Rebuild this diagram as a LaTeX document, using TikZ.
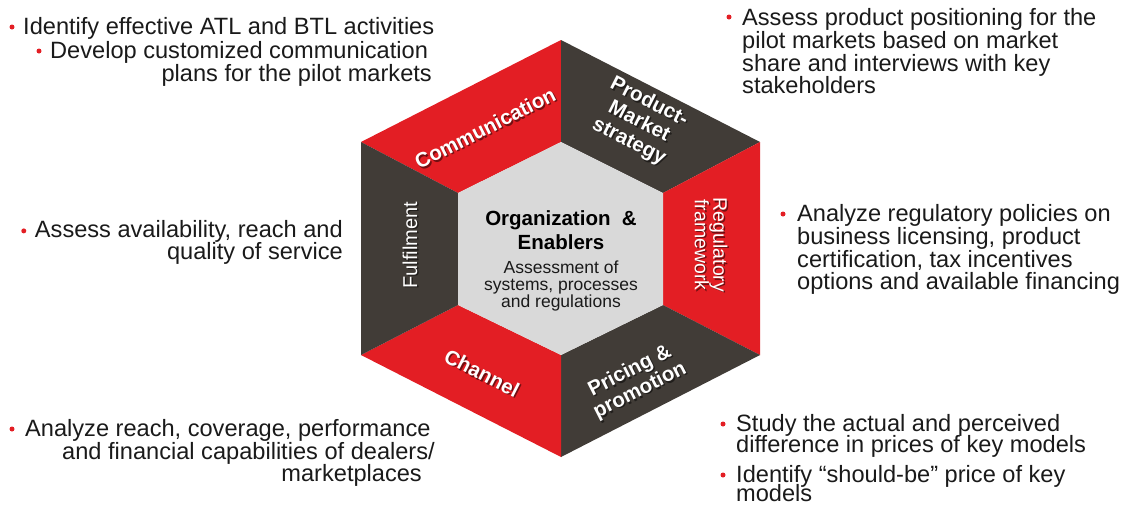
\documentclass[tikz,border=0pt]{standalone}
\usepackage{fontspec}
\setmainfont{Liberation Sans}
\definecolor{hxred}{HTML}{E31E24}
\definecolor{hxdark}{HTML}{413C37}
\definecolor{hxgray}{HTML}{D9D9D9}
\definecolor{txtc}{HTML}{1A1A1A}
\tikzset{
  body/.style={font=\fontsize{23.6}{23}\selectfont, text=txtc, inner sep=0pt},
  bul/.style={circle, fill=hxred, minimum size=5pt, inner sep=0pt},
  lbl/.style={text=white, font=\fontsize{20.5}{22}\selectfont\bfseries, align=center, inner sep=0pt},
  lblr/.style={text=white, font=\fontsize{19.5}{18.5}\selectfont, align=center, inner sep=0pt},
  shd/.style={text=black, text opacity=0.5}
}
\begin{document}
\begin{tikzpicture}[x=1pt,y=-1pt]
\useasboundingbox (0,0) rectangle (1133,504);
% hexagon vertices
\coordinate (O1) at (561,40);
\coordinate (O2) at (760,142);
\coordinate (O3) at (760,355);
\coordinate (O4) at (561,457);
\coordinate (O5) at (361,355);
\coordinate (O6) at (361,142);
\coordinate (I1) at (561,142);
\coordinate (I2) at (663,193);
\coordinate (I3) at (663,305);
\coordinate (I4) at (561,355);
\coordinate (I5) at (458,305);
\coordinate (I6) at (458,193);
\fill[hxred]  (O6)--(O1)--(I1)--(I6)--cycle;
\fill[hxdark] (O1)--(O2)--(I2)--(I1)--cycle;
\fill[hxred]  (O2)--(O3)--(I3)--(I2)--cycle;
\fill[hxdark] (O3)--(O4)--(I4)--(I3)--cycle;
\fill[hxred]  (O4)--(O5)--(I5)--(I4)--cycle;
\fill[hxdark] (O5)--(O6)--(I6)--(I5)--cycle;
\fill[hxgray] (I1)--(I2)--(I3)--(I4)--(I5)--(I6)--cycle;
% segment labels with shadows
\node[lbl,shd,rotate=27] (commS) at (486.5,129.5) {Communication};
\node[lbl,rotate=27] (comm) at (485,128) {Communication};
\node[lbl,shd,rotate=-27] (prodS) at (640.5,123.5) {Product-\\Market\\strategy};
\node[lbl,rotate=-27] (prod) at (639,122) {Product-\\Market\\strategy};
\node[lblr,shd,rotate=-90] (regS) at (712.5,246.5) {Regulatory\\framework};
\node[lblr,rotate=-90] (reg) at (711,245) {Regulatory\\framework};
\node[lbl,shd,rotate=27] (priS) at (636.5,382.5) {Pricing \&\\promotion};
\node[lbl,rotate=27] (pri) at (635,381) {Pricing \&\\promotion};
\node[lbl,shd,rotate=-27] (chanS) at (483.5,374.5) {Channel};
\node[lbl,rotate=-27] (chan) at (482,373) {Channel};
\node[lblr,shd,rotate=90,font=\fontsize{20}{20}\selectfont] (fulS) at (411.5,246.5) {Fulfilment};
\node[lblr,rotate=90,font=\fontsize{20}{20}\selectfont] (ful) at (410,245) {Fulfilment};
% centre
\node[align=center, inner sep=0pt, font=\fontsize{20.5}{24}\selectfont\bfseries, text=black] (org) at (561,230) {Organization\ \ \&\\Enablers};
\node[align=center, inner sep=0pt, font=\fontsize{17.5}{17}\selectfont, text=txtc] (orgsub) at (561,286) {Assessment of\\systems, processes\\and regulations};
% top-left
\node[bul] (b1) at (12,27) {};
\node[body, anchor=base west] (tl1) at (23,34) {Identify effective ATL and BTL activities};
\node[bul] (b2) at (39,51) {};
\node[body, anchor=base west] (tl2) at (50,58) {Develop customized communication};
\node[body, anchor=base east] (tl3) at (432,81) {plans for the pilot markets};
% top-right
\node[bul] (b3) at (729,17) {};
\node[body, anchor=base west] (tr1) at (742,25) {Assess product positioning for the};
\node[body, anchor=base west] (tr2) at (742,48) {pilot markets based on market};
\node[body, anchor=base west] (tr3) at (742,71) {share and interviews with key};
\node[body, anchor=base west] (tr4) at (742,93) {stakeholders};
% left middle
\node[body, anchor=base east] (lm1) at (343,237) {Assess availability, reach and};
\node[body, anchor=base east] (lm2) at (343,259) {quality of service};
\node[bul, xshift=-11pt] (b4) at (lm1.west) {};
% right middle
\node[bul] (b5) at (783,214) {};
\node[body, anchor=base west] (rm1) at (797,221) {Analyze regulatory policies on};
\node[body, anchor=base west] (rm2) at (797,244) {business licensing, product};
\node[body, anchor=base west] (rm3) at (797,267) {certification, tax incentives};
\node[body, anchor=base west] (rm4) at (797,289) {options and available financing};
% bottom-left
\node[bul] (b6) at (12,429) {};
\node[body, anchor=base west] (bl1) at (25,436) {Analyze reach, coverage, performance};
\node[body, anchor=base east] (bl2) at (435,459) {and financial capabilities of dealers/};
\node[body, anchor=base east] (bl3) at (422,481) {marketplaces};
% bottom-right
\node[bul] (b7) at (723,424) {};
\node[body, anchor=base west] (br1) at (736,431) {Study the actual and perceived};
\node[body, anchor=base west] (br2) at (736,452) {difference in prices of key models};
\node[bul] (b8) at (723,475) {};
\node[body, anchor=base west] (br3) at (736,482) {Identify “should-be” price of key};
\node[body, anchor=base west] (br4) at (736,501) {models};
\end{tikzpicture}
\end{document}
